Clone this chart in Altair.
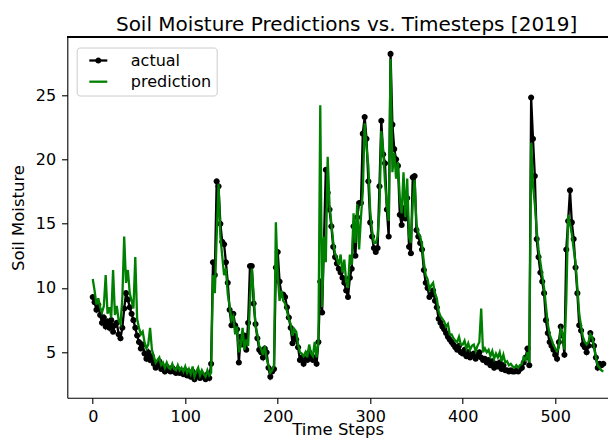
import altair as alt
import pandas as pd

steps = list(range(0, 553, 2))

actual = [
    9.3, 8.9, 8.3, 8.7, 7.9, 7.3, 7.7, 7.0, 7.4, 6.9,
    7.5, 6.6, 7.1, 7.3, 6.4, 6.1, 6.9, 8.4, 9.6, 9.1,
    8.5, 8.0, 7.5, 6.9, 6.3, 5.8, 5.3, 5.6, 4.9, 4.5,
    5.0, 4.4, 4.7, 4.1, 3.8, 4.0, 4.3, 3.7, 3.9, 3.5,
    3.9, 3.6, 3.5, 3.8, 3.5, 3.4, 3.7, 3.4, 3.5, 3.3,
    3.6, 3.2, 3.4, 3.1, 3.5, 2.9, 3.2, 3.4, 3.0, 3.3,
    3.1, 2.9, 3.3, 3.0, 4.1, 12.0, 11.0, 18.3, 17.9, 15.0,
    13.6, 13.4, 12.0, 10.4, 8.3, 7.1, 8.0, 7.1, 6.8, 4.2,
    6.2, 5.6, 6.3, 5.2, 7.3, 11.7, 11.7, 8.8, 7.2, 6.1,
    5.2, 5.0, 4.6, 5.3, 5.0, 3.8, 3.1, 3.5, 3.7, 11.6,
    12.8, 10.5, 9.5, 9.5, 9.3, 8.5, 7.7, 6.9, 5.7, 6.3,
    6.0, 5.4, 4.4, 4.6, 4.1, 4.5, 4.4, 5.0, 4.7, 4.4,
    4.6, 4.1, 5.8, 10.5, 8.1, 13.6, 19.2, 17.4, 16.1, 14.8,
    13.2, 12.4, 11.9, 11.5, 11.2, 10.8, 10.4, 9.8, 9.3, 10.8,
    11.5, 14.8, 12.5, 15.5, 16.6, 16.6, 22.0, 23.3, 21.6, 18.3,
    15.1, 14.0, 13.1, 12.8, 13.1, 17.9, 23.0, 20.4, 19.7, 16.1,
    14.0, 28.2, 22.7, 20.8, 20.0, 19.5, 15.7, 14.9, 16.2, 15.4,
    17.0, 13.2, 12.7, 18.6, 18.7, 14.5, 14.0, 13.5, 13.0, 11.4,
    10.4, 10.0, 9.3, 9.5, 9.8, 9.0, 8.5, 7.6, 7.3, 7.0,
    6.8, 6.5, 6.2, 6.0, 5.8, 5.6, 5.4, 5.2, 5.5, 5.0,
    4.9, 5.2, 4.7, 5.0, 4.6, 4.8, 4.9, 4.5, 4.7, 5.0,
    4.6, 4.4, 4.5, 4.2, 4.4, 4.0, 4.3, 3.8, 4.1, 3.9,
    4.2, 3.7, 4.0, 3.6, 3.6, 3.5, 3.6, 3.5, 3.5, 3.6,
    3.5, 3.7, 3.8, 4.2, 4.6, 5.3, 4.0, 24.8, 21.6, 18.7,
    13.8, 12.4, 11.2, 10.5, 9.6, 7.5, 6.5, 5.8, 5.5, 5.2,
    4.8, 4.5, 5.8, 7.0, 6.3, 4.8, 13.0, 15.2, 17.6, 15.1,
    13.8, 11.6, 9.6, 7.1, 6.7, 5.6, 5.4, 5.0, 5.5, 6.5,
    6.0, 5.5, 4.6, 3.8, 4.1, 4.0, 4.1,
]

prediction = [
    10.7, 9.8, 8.7, 9.2, 8.5, 8.1, 8.6, 11.0, 8.0, 8.5,
    7.7, 11.4, 7.9, 8.6, 7.5, 7.2, 9.2, 14.0, 10.4, 11.4,
    9.6, 9.0, 8.4, 12.4, 7.6, 6.9, 6.4, 6.6, 5.8, 5.3,
    5.6, 6.9, 5.2, 4.7, 4.2, 4.4, 4.6, 4.0, 4.2, 3.8,
    4.2, 3.8, 3.7, 4.1, 3.7, 3.6, 4.0, 3.6, 3.8, 3.5,
    3.9, 3.4, 3.7, 3.3, 3.9, 3.1, 3.5, 3.8, 3.2, 3.6,
    3.3, 3.1, 3.6, 3.2, 3.4, 11.0, 9.6, 14.0, 18.1, 14.0,
    12.5, 11.0, 11.5, 9.5, 8.6, 7.5, 7.8, 6.4, 7.0, 5.0,
    5.5, 6.9, 5.2, 6.0, 5.5, 9.0, 11.5, 9.5, 7.0, 6.4,
    5.5, 5.3, 4.8, 5.5, 4.5, 4.0, 3.4, 3.6, 4.0, 15.1,
    11.0, 9.0, 9.8, 9.0, 8.8, 8.2, 7.6, 7.2, 6.3, 6.8,
    6.6, 5.6, 5.0, 4.9, 4.7, 5.0, 4.6, 5.6, 4.9, 4.7,
    5.8, 4.6, 5.8, 24.2, 8.5, 14.0, 12.0, 20.2, 16.5, 15.0,
    13.6, 12.7, 12.3, 11.8, 12.6, 11.2, 12.2, 10.5, 10.0, 12.6,
    11.8, 15.8, 13.5, 16.5, 13.0, 15.5, 17.5, 22.8, 21.0, 19.5,
    16.0, 14.5, 13.5, 13.5, 14.0, 16.0, 22.2, 20.8, 18.2, 16.5,
    15.2, 27.8, 19.0, 20.5, 18.5, 19.8, 17.0, 15.8, 19.0, 15.5,
    18.5, 14.0, 13.5, 16.6, 18.4, 15.0, 14.3, 14.0, 13.4, 12.0,
    11.0, 10.7, 9.9, 10.2, 10.4, 9.6, 9.2, 8.2, 7.8, 7.6,
    7.4, 7.0, 7.2, 6.4, 6.4, 6.1, 5.9, 5.8, 6.2, 5.6,
    5.6, 5.9, 5.3, 5.7, 5.2, 5.5, 5.6, 5.1, 5.5, 5.8,
    8.4, 5.0, 5.3, 5.0, 5.2, 4.7, 5.1, 4.5, 4.9, 4.6,
    5.0, 4.3, 4.8, 4.2, 4.3, 4.0, 4.1, 3.9, 3.8, 4.0,
    3.8, 4.0, 4.1, 4.6, 4.4, 5.0, 4.2, 21.3, 18.0, 16.5,
    14.5, 13.0, 12.0, 11.0, 10.0, 8.6, 7.2, 6.4, 6.0, 5.6,
    5.3, 5.1, 5.4, 6.8, 6.5, 5.2, 9.0, 15.7, 15.0, 14.2,
    13.0, 12.0, 10.0, 8.0, 7.0, 6.2, 5.8, 5.6, 5.8, 6.4,
    6.2, 5.4, 4.6, 4.0, 3.8, 3.6, 3.5,
]

series_names = ["actual", "prediction"]
series_colors = ["#000000", "#008000"]
x_ticks = [0, 100, 200, 300, 400, 500]
y_ticks = [5, 10, 15, 20, 25]

rows = []
for s, a, p in zip(steps, actual, prediction):
    rows.append({"step": s, "value": a, "series": "actual", "m": "actual"})
    rows.append({"step": s, "value": p, "series": "prediction", "m": "prediction"})
df = pd.DataFrame(rows)

FONT = "DejaVu Sans"
LINE_PATH = "M-1.4,0L1.4,0"
DOT_PATH = "M-0.47,0A0.47,0.47,0,1,1,0.47,0A0.47,0.47,0,1,1,-0.47,0Z"

W = 540.7
H = 360.4

x = alt.X("step:Q",
          scale=alt.Scale(domain=[-27.5, 557.1], nice=False, zero=False),
          axis=alt.Axis(values=x_ticks, title="Time Steps", format="d",
                        labelPadding=5.3, titleBaseline="alphabetic",
                        titlePadding=10))
y = alt.Y("value:Q",
          scale=alt.Scale(domain=[1.47, 29.49], nice=False, zero=False),
          axis=alt.Axis(values=y_ticks, title="Soil Moisture", format="d",
                        titlePadding=9))

legend_common = dict(
    title=None, orient="none", legendX=9.4, legendY=10.2,
    padding=5, rowPadding=5.2, symbolSize=165,
    symbolOffset=8.6, labelOffset=24.5,
    labelFont=FONT, labelFontSize=16,
)

color = alt.Color(
    "series:N",
    scale=alt.Scale(domain=series_names, range=series_colors),
    legend=alt.Legend(
        symbolType=LINE_PATH, symbolStrokeWidth=2.3, labelColor="black",
        fillColor="rgba(255,255,255,0.8)", strokeColor="#cccccc",
        cornerRadius=3, zindex=1, **legend_common,
    ),
)

base = alt.Chart(df)

line_a = base.transform_filter("datum.series == 'actual'").mark_line(
    strokeWidth=2.3, clip=True).encode(x=x, y=y, color=color)

pts = base.transform_filter("datum.series == 'actual'").mark_point(
    filled=True, size=165, opacity=1, clip=True).encode(
    x=x, y=y, color=alt.value("black"),
    shape=alt.Shape("m:N", scale=alt.Scale(domain=["actual"], range=[DOT_PATH]),
                    legend=alt.Legend(
                        symbolFillColor="black", symbolStrokeWidth=0,
                        labelColor="transparent", zindex=2, **legend_common,
                    )))

line_p = base.transform_filter("datum.series == 'prediction'").mark_line(
    strokeWidth=2.3, clip=True).encode(x=x, y=y, color=color)

top_frame = base.mark_rule(color="black", strokeWidth=1.1).encode(
    x=alt.value(0), x2=alt.value(W), y=alt.value(0))

chart = alt.layer(line_a, pts, line_p, top_frame).properties(
    width=W, height=H,
    padding={"left": 59.3, "top": 29.3, "right": 0, "bottom": 40.3},
    autosize=alt.AutoSizeParams(type="none"),
    title=alt.TitleParams(
        "Soil Moisture Predictions vs. Timesteps [2019]",
        font=FONT, fontSize=20, fontWeight="normal", color="black",
        anchor="middle", frame="group", dx=9, offset=-14.5,
        baseline="alphabetic",
    ),
).configure_view(stroke=None).configure_axis(
    grid=False, domain=True, domainColor="black", domainWidth=1.1,
    tickColor="black", tickSize=5.8, tickWidth=1.1,
    labelFont=FONT, labelFontSize=16, labelColor="black", labelPadding=5.8,
    titleFont=FONT, titleFontSize=16.5, titleFontWeight="normal",
    titleColor="black", titlePadding=6,
)

chart.save("out.html", embed_options={"renderer": "svg", "actions": False})
